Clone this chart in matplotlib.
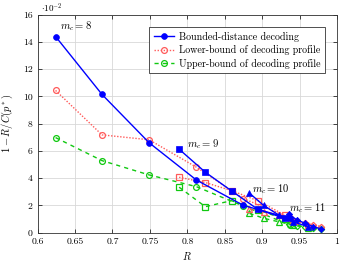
import matplotlib
matplotlib.use("Agg")

import matplotlib.pyplot as plt

# code rates for each m_c (BCH-like codes, t = 12 ... 2)
rate_m8 = [0.624, 0.686, 0.749, 0.812, 0.875, 0.937]
rate_m9 = [0.789, 0.824, 0.859, 0.894, 0.930]
rate_m10 = [0.883, 0.902, 0.922, 0.941, 0.961]
rate_m11 = [0.9355, 0.946, 0.957, 0.968, 0.9785]

# values are in units of 1e-2
bdd_m8 = [14.4, 10.15, 6.6, 3.87, 2.0, 1.05]
bdd_m9 = [6.13, 4.44, 3.07, 1.72, 1.05]
bdd_m10 = [2.9, 2.0, 1.3, 0.8, 0.45]
bdd_m11 = [1.35, 0.95, 0.7, 0.45, 0.28]

lower_m8 = [10.44, 7.18, 6.82, 4.81, 2.5, 1.1]
lower_m9 = [4.07, 3.68, 3.09, 2.35, 1.3]
lower_m10 = [1.74, 1.55, 1.3, 0.95, 0.6]
lower_m11 = [1.1, 0.85, 0.7, 0.6, 0.45]

upper_m8 = [6.98, 5.29, 4.24, 3.38, 1.95, 0.57]
upper_m9 = [3.34, 1.91, 2.35, 1.67, 1.0]
upper_m10 = [1.42, 1.06, 0.8, 0.6, 0.38]
upper_m11 = [0.65, 0.5, 0.42, 0.32, 0.3]

x_ticks = [0.6, 0.65, 0.7, 0.75, 0.8, 0.85, 0.9, 0.95, 1]
y_ticks = [0, 2, 4, 6, 8, 10, 12, 14, 16]

plt.rcParams["font.family"] = "cmr10"
plt.rcParams["mathtext.fontset"] = "cm"
plt.rcParams["axes.formatter.use_mathtext"] = True

BLUE = "#0000ff"
RED = "#ff5a5a"
GREEN = "#10c810"

fig = plt.figure(figsize=(3.45, 2.64), dpi=100)
ax = fig.add_axes([0.109, 0.1186, 0.868, 0.8257])

groups = [
    (rate_m8, bdd_m8, lower_m8, upper_m8, "o"),
    (rate_m9, bdd_m9, lower_m9, upper_m9, "s"),
    (rate_m10, bdd_m10, lower_m10, upper_m10, "^"),
    (rate_m11, bdd_m11, lower_m11, upper_m11, "D"),
]

for i, (r, bdd, low, up, mk) in enumerate(groups):
    ms = 4.2 if mk != "D" else 3.2
    ax.plot(r, up, color=GREEN, linestyle=(0, (3, 3)), linewidth=1.0,
            marker=mk, markersize=ms, markerfacecolor="none", markeredgewidth=0.9,
            label="Upper-bound of decoding profile" if i == 0 else None, zorder=3)
    ax.plot(r, low, color=RED, linestyle=(0, (1, 1.2)), linewidth=1.0,
            marker=mk, markersize=ms, markerfacecolor="none", markeredgewidth=0.9,
            label="Lower-bound of decoding profile" if i == 0 else None, zorder=4)
    ax.plot(r, bdd, color=BLUE, linestyle="-", linewidth=1.0,
            marker=mk, markersize=ms, markeredgewidth=0.5,
            label="Bounded-distance decoding" if i == 0 else None, zorder=5)

ax.text(0.630, 14.9, r"$m_c=8$", fontsize=7.6)
ax.text(0.799, 6.3, r"$m_c=9$", fontsize=7.6)
ax.text(0.886, 2.95, r"$m_c=10$", fontsize=7.6)
ax.text(0.936, 1.55, r"$m_c=11$", fontsize=7.6)

ax.set_xlim(0.6, 1.0)
ax.set_ylim(0, 16)
ax.set_xticks(x_ticks)
ax.set_xticklabels(["0.6", "0.65", "0.7", "0.75", "0.8", "0.85", "0.9", "0.95", "1"])
ax.set_yticks(y_ticks)
ax.set_yticklabels([str(v) for v in y_ticks])
ax.tick_params(direction="in", top=True, right=True, labelsize=7, length=3, width=0.5)
ax.grid(True, color="#d8d8d8", linewidth=0.6)
ax.set_axisbelow(True)
for s in ax.spines.values():
    s.set_linewidth(0.6)
    s.set_color("#333333")

ax.set_xlabel(r"$R$", fontsize=7.5, labelpad=3)
ax.set_ylabel(r"$1-R/C(p^*)$", fontsize=7.5, labelpad=6)
fig.text(0.118, 0.995, r"$\cdot 10^{-2}$", fontsize=6.5, va="top")

handles, labels = ax.get_legend_handles_labels()
order = [2, 1, 0]
leg = ax.legend([handles[k] for k in order], [labels[k] for k in order],
                loc="upper right", bbox_to_anchor=(0.975, 0.965), fontsize=7.2,
                fancybox=False, edgecolor="#333333", framealpha=1,
                handlelength=2.0, borderpad=0.45, labelspacing=0.35, handletextpad=0.5)
leg.get_frame().set_linewidth(0.6)

fig.savefig("out.png", dpi=100)
plt.close(fig)
